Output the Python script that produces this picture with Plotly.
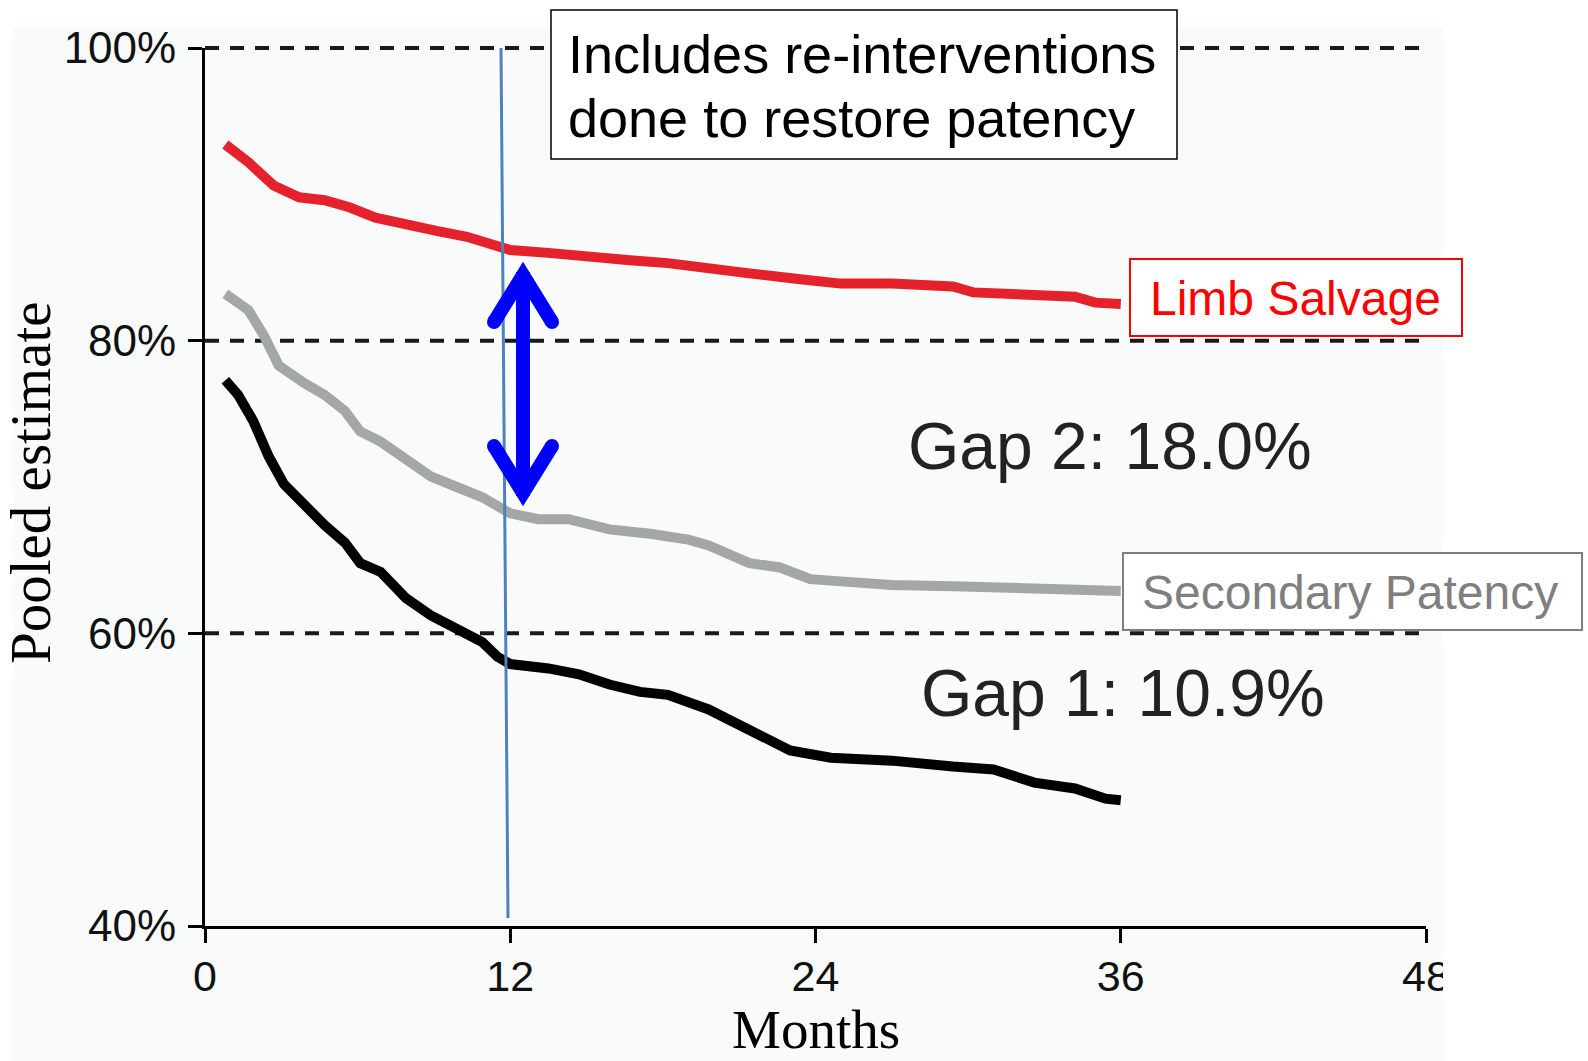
import plotly.graph_objects as go

# ---- data ----
months_limb = [0.8, 1.7, 2.7, 3.7, 4.7, 5.7, 6.7, 7.9, 9.1, 10.3, 11.5, 12.0, 13.5, 15.1, 16.7, 18.2, 19.8,
               21.4, 23.4, 25.0, 27.0, 29.4, 30.2, 32.6, 34.2, 35.0, 36.0]
limb_salvage = [93.4, 92.2, 90.6, 89.8, 89.6, 89.1, 88.4, 87.9, 87.5, 87.1, 86.4, 86.2, 86.0, 85.7, 85.5, 85.3,
                84.9, 84.6, 84.2, 83.9, 83.9, 83.7, 83.3, 83.2, 83.0, 82.6, 82.5]

months_sec = [0.8, 1.7, 2.3, 2.9, 3.9, 4.7, 5.5, 6.1, 6.9, 7.9, 8.9, 9.9, 10.9, 12.0, 13.1, 14.3, 15.9, 17.5,
              19.0, 19.8, 21.4, 22.6, 23.8, 25.4, 27.0, 29.8, 34.2, 36.0]
secondary_patency = [83.2, 82.1, 80.4, 78.3, 77.1, 76.3, 75.2, 73.8, 73.1, 71.8, 70.7, 70.0, 69.3, 68.2, 67.8,
                     67.8, 67.1, 66.8, 66.4, 66.0, 64.8, 64.5, 63.7, 63.5, 63.3, 63.2, 63.1, 62.9]

months_prim = [0.8, 1.3, 1.9, 2.5, 3.1, 3.9, 4.7, 5.5, 6.1, 6.9, 7.9, 8.9, 9.9, 10.9, 11.5, 12.0, 13.5, 14.7,
               15.9, 17.1, 18.2, 19.8, 21.4, 23.0, 24.6, 27.0, 29.4, 31.0, 32.6, 34.2, 35.4, 36.0]
primary_patency = [77.3, 76.3, 74.5, 72.1, 70.2, 68.7, 67.4, 66.2, 64.8, 64.2, 62.4, 61.2, 60.3, 59.4, 58.4,
                   57.9, 57.6, 57.2, 56.5, 56.0, 55.8, 54.8, 53.4, 52.0, 51.5, 51.3, 50.9, 50.7, 49.8, 49.4,
                   48.7, 48.6]

x_ticks = [0, 12, 24, 36, 48]
y_ticks = [40, 60, 80, 100]
y_tick_labels = ["40%", "60%", "80%", "100%"]
grid_levels = [60, 80, 100]
Y_MIN, Y_MAX = 40, 100

# ---- layout geometry ----
W, H = 1588, 1061
ML, MR, MT, MB = 205, 162, 48, 135
PW, PH = W - ML - MR, H - MT - MB


def px(xp):
    return (xp - ML) / PW


def py(yp):
    return (H - MB - yp) / PH


fig = go.Figure()
fig.add_trace(go.Scatter(x=months_limb, y=limb_salvage, mode="lines",
                         line=dict(color="#e5222b", width=10), name="Limb Salvage"))
fig.add_trace(go.Scatter(x=months_sec, y=secondary_patency, mode="lines",
                         line=dict(color="#a3a7a6", width=10), name="Secondary Patency"))
fig.add_trace(go.Scatter(x=months_prim, y=primary_patency, mode="lines",
                         line=dict(color="#000000", width=10), name="Primary Patency"))

shapes = []
# faint background of the original chart image
shapes.append(dict(type="rect", xref="paper", yref="paper", x0=px(13), x1=px(1443), y0=py(28), y1=py(H + 5),
                   fillcolor="#f9fbfb", line=dict(width=0), layer="below"))
# dashed horizontal gridlines (paper y so the 100% line is not clipped)
for g in grid_levels:
    gy = (g - Y_MIN) / (Y_MAX - Y_MIN)
    shapes.append(dict(type="line", xref="paper", yref="paper", x0=0, x1=1, y0=gy, y1=gy,
                       line=dict(color="#1a1a1a", width=4, dash="14px,11px"), layer="below"))
# thin blue vertical marker near 12 months
shapes.append(dict(type="line", xref="paper", yref="paper", x0=px(501), y0=py(48), x1=px(508), y1=py(918),
                   line=dict(color="#4f81bd", width=3), layer="above"))
# blue double arrow
blue = "#0000ff"
aw = 14
shapes.append(dict(type="line", xref="paper", yref="paper", x0=px(523), y0=py(272), x1=px(523), y1=py(496),
                   line=dict(color=blue, width=aw), layer="above"))
shapes.append(dict(type="path", xref="paper", yref="paper",
                   path=f"M {px(494)},{py(322)} L {px(523)},{py(275)} L {px(552)},{py(322)}",
                   line=dict(color=blue, width=aw), layer="above"))
shapes.append(dict(type="path", xref="paper", yref="paper",
                   path=f"M {px(494)},{py(446)} L {px(523)},{py(493)} L {px(552)},{py(446)}",
                   line=dict(color=blue, width=aw), layer="above"))
for cx, cy in [(494, 322), (552, 322), (494, 446), (552, 446)]:
    r = aw / 2
    shapes.append(dict(type="circle", xref="paper", yref="paper", x0=px(cx - r), x1=px(cx + r),
                       y0=py(cy + r), y1=py(cy - r), fillcolor=blue, line=dict(width=0), layer="above"))
# text boxes
shapes.append(dict(type="rect", xref="paper", yref="paper", x0=px(551), x1=px(1177), y0=py(10), y1=py(159),
                   fillcolor="white", line=dict(color="black", width=1.5), layer="above"))
shapes.append(dict(type="rect", xref="paper", yref="paper", x0=px(1130), x1=px(1462), y0=py(259), y1=py(336),
                   fillcolor="white", line=dict(color="#ff0000", width=2), layer="above"))
shapes.append(dict(type="rect", xref="paper", yref="paper", x0=px(1123), x1=px(1582), y0=py(553), y1=py(630),
                   fillcolor="white", line=dict(color="#7f7f7f", width=2), layer="above"))
# clip of the "48" label at the picture edge
shapes.append(dict(type="rect", xref="paper", yref="paper", x0=px(1443), x1=px(W + 5), y0=py(940), y1=py(H + 5),
                   fillcolor="white", line=dict(width=0), layer="above"))

sans = "Liberation Sans, Arial, sans-serif"
serif = "Liberation Serif, Times New Roman, serif"

annotations = [
    dict(text="Includes re-interventions", x=px(566), y=py(54.5), xanchor="left", yanchor="middle",
         font=dict(family=sans, size=54, color="black")),
    dict(text="done to restore patency", x=px(566), y=py(118), xanchor="left", yanchor="middle",
         font=dict(family=sans, size=54, color="black")),
    dict(text="Limb Salvage", x=px(1295), y=py(298), xanchor="center", yanchor="middle",
         font=dict(family=sans, size=48, color="#ff0000")),
    dict(text="Secondary Patency", x=px(1350), y=py(592), xanchor="center", yanchor="middle",
         font=dict(family=sans, size=48, color="#7f7f7f")),
    dict(text="Gap 2: 18.0%", x=px(1110), y=py(446), xanchor="center", yanchor="middle",
         font=dict(family=sans, size=66, color="#222222")),
    dict(text="Gap 1: 10.9%", x=px(1123), y=py(693), xanchor="center", yanchor="middle",
         font=dict(family=sans, size=66, color="#222222")),
    dict(text="Months", x=0.5, y=py(1029), xanchor="center", yanchor="middle",
         font=dict(family=serif, size=55, color="black")),
    dict(text="Pooled estimate", x=px(31), y=py(482), xanchor="center", yanchor="middle", textangle=-90,
         font=dict(family=serif, size=57, color="black")),
]
for a in annotations:
    a.update(xref="paper", yref="paper", showarrow=False)

fig.update_layout(
    width=W, height=H, autosize=False,
    margin=dict(l=ML, r=MR, t=MT, b=MB, pad=0),
    paper_bgcolor="white", plot_bgcolor="#f9fbfb",
    showlegend=False,
    shapes=shapes, annotations=annotations,
    xaxis=dict(range=[0, 48], tickvals=x_ticks, ticktext=[str(v) for v in x_ticks],
               showgrid=False, zeroline=False, showline=True, linecolor="black", linewidth=3,
               ticks="outside", ticklen=14, tickwidth=3, tickcolor="black",
               tickfont=dict(family=sans, size=43, color="#111111"), ticklabelstandoff=-4),
    yaxis=dict(range=[Y_MIN, Y_MAX], tickvals=y_ticks, ticktext=y_tick_labels,
               showgrid=False, zeroline=False, showline=True, linecolor="black", linewidth=3,
               ticks="outside", ticklen=14, tickwidth=3, tickcolor="black",
               tickfont=dict(family=sans, size=44, color="#111111"), ticklabelstandoff=3),
)

fig.write_html("out.html")
